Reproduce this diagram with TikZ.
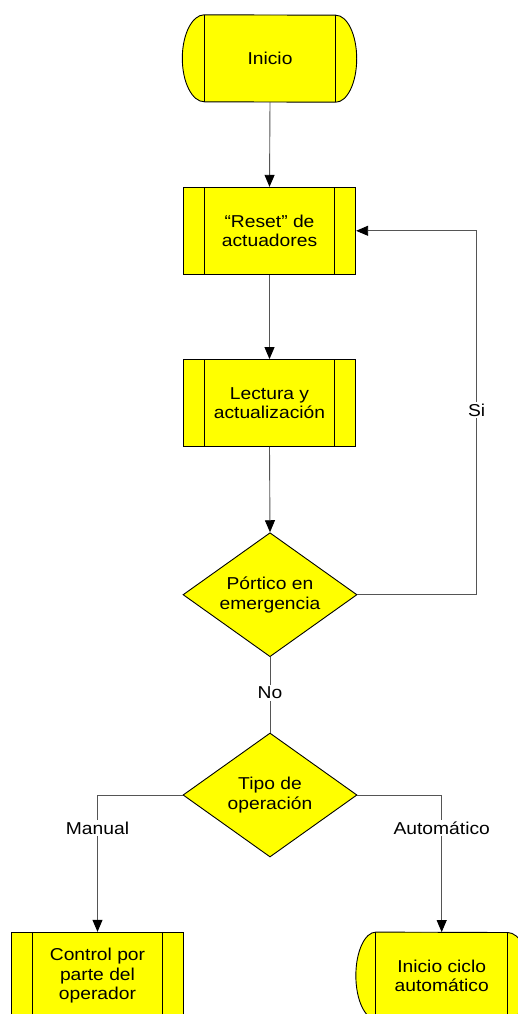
\documentclass[tikz,border=0pt]{standalone}
\usepackage{fontspec}
\setmainfont{Liberation Sans}[FakeStretch=1.12]
\usetikzlibrary{shapes.geometric,arrows.meta}
\definecolor{boxyellow}{HTML}{FFFF00}
\definecolor{wire}{HTML}{555555}
\tikzset{
  every node/.style={font=\fontsize{17.2}{19.6}\selectfont, align=center, inner sep=0pt},
  procbox/.style={draw=black, line width=0.9pt, fill=boxyellow,
    minimum width=172.4pt, minimum height=87pt,
    path picture={
      \draw[black, line width=0.9pt]
        ([xshift=21.4pt]path picture bounding box.north west) -- ([xshift=21.4pt]path picture bounding box.south west)
        ([xshift=-21.4pt]path picture bounding box.north east) -- ([xshift=-21.4pt]path picture bounding box.south east);
    }},
  termcore/.style={minimum width=131pt, minimum height=87pt},
  decision/.style={diamond, draw=black, line width=0.9pt, fill=boxyellow,
    minimum width=174pt, minimum height=124pt, aspect=1.4},
  flow/.style={draw=wire, line width=0.9pt, -{Triangle[length=12pt,width=10pt,color=black,fill=black]}},
  plain/.style={draw=wire, line width=0.9pt},
  tag/.style={fill=white, inner sep=2pt}
}
\begin{document}
\begin{tikzpicture}[x=1pt, y=-1pt]
\useasboundingbox (0,0) rectangle (518,1014);
\begin{scope}
\clip (0,0) rectangle (518,1014);

% terminal "Inicio"
\node[termcore] (inicio) at (270,58.5) {};
\fill[boxyellow] (inicio.north west) arc[start angle=90, end angle=270, x radius=22pt, y radius=43.5pt]
  -- (inicio.south east) arc[start angle=-90, end angle=90, x radius=21pt, y radius=43.5pt] -- cycle;
\draw[black, line width=0.9pt] (inicio.north west) arc[start angle=90, end angle=270, x radius=22pt, y radius=43.5pt]
  -- (inicio.south east) arc[start angle=-90, end angle=90, x radius=21pt, y radius=43.5pt] -- cycle;
\draw[black, line width=0.9pt] (inicio.north west) -- (inicio.south west) (inicio.north east) -- (inicio.south east);
\node at (inicio) {Inicio};

% process boxes
\node[procbox] (reset) at (269.5,230.8) {\textquotedblleft Reset\textquotedblright{} de\\actuadores};
\node[procbox] (lectura) at (269.5,403) {Lectura y\\actualizaci\'on};

% decisions
\node[decision] (portico) at (270,594.7) {P\'ortico en\\emergencia};
\node[decision] (tipo) at (270,795) {Tipo de\\operaci\'on};

% bottom boxes
\node[procbox] (control) at (97.5,975.8) {Control por\\parte del\\operador};

\node[termcore, minimum width=131.3pt] (ciclo) at (441.7,975.8) {};
\fill[boxyellow] (ciclo.north west) arc[start angle=90, end angle=270, x radius=20pt, y radius=43.5pt]
  -- (ciclo.south east) arc[start angle=-90, end angle=90, x radius=22pt, y radius=43.5pt] -- cycle;
\draw[black, line width=0.9pt] (ciclo.north west) arc[start angle=90, end angle=270, x radius=20pt, y radius=43.5pt]
  -- (ciclo.south east) arc[start angle=-90, end angle=90, x radius=22pt, y radius=43.5pt] -- cycle;
\draw[black, line width=0.9pt] (ciclo.north west) -- (ciclo.south west) (ciclo.north east) -- (ciclo.south east);
\node at (ciclo) {Inicio ciclo\\autom\'atico};

% main flow
\draw[flow] (inicio.south) -- (reset.north);
\draw[flow] (reset.south) -- (lectura.north);
\draw[flow] (lectura.south) -- (portico.north);
\draw[plain] (portico.south) -- (tipo.north);
\node[tag] (no) at (270,693) {No};

% emergency loop
\coordinate (loopx) at (476.7,0);
\draw[flow] (portico.east) -| (loopx |- reset.east) -- (reset.east);
\node[tag] (si) at (476.7,410) {Si};

% operation branches
\draw[flow] (tipo.west) -| (control.north);
\draw[flow] (tipo.east) -| (ciclo.north);
\node[tag] (manual) at (97.5,828) {Manual};
\node[tag] (auto) at (441.7,828) {Autom\'atico};
\end{scope}
\end{tikzpicture}
\end{document}
